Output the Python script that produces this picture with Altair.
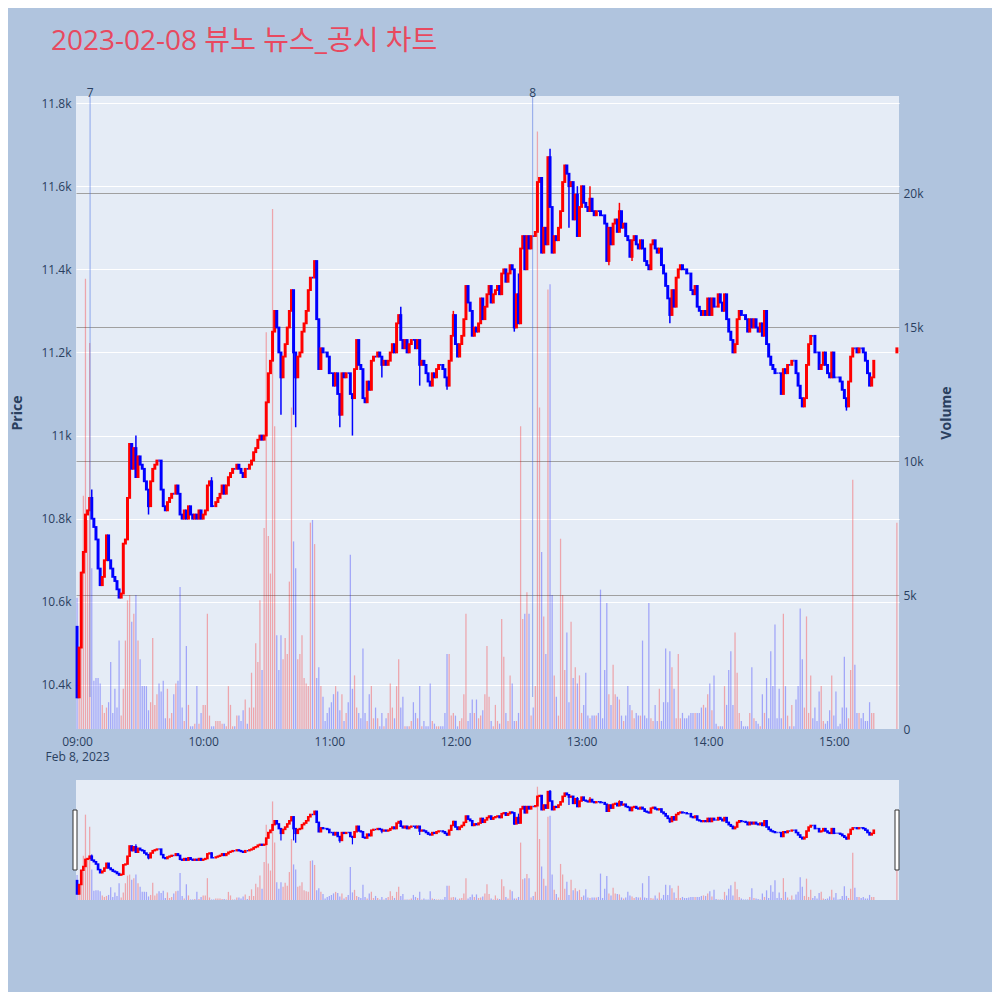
import altair as alt
import pandas as pd

title_text = "2023-02-08 뷰노 뉴스_공시 차트"

# ---- data (1-minute candles 09:00..15:19, plus 15:30 closing auction)
first_open = 10540
closes = [
    10370, 10490, 10670, 10720, 10810, 10820, 10850, 10800, 10780, 10750,
    10680, 10640, 10660, 10700, 10760, 10700, 10680, 10660, 10650, 10630,
    10610, 10620, 10740, 10750, 10850, 10980, 10920, 10970, 10900, 10950,
    10930, 10920, 10890, 10870, 10830, 10890, 10920, 10930, 10940, 10940,
    10870, 10830, 10820, 10840, 10850, 10860, 10860, 10880, 10860, 10810,
    10800, 10820, 10800, 10830, 10810, 10800, 10810, 10800, 10820, 10800,
    10810, 10820, 10880, 10890, 10830, 10830, 10840, 10850, 10860, 10880,
    10860, 10880, 10900, 10910, 10920, 10920, 10930, 10920, 10910, 10900,
    10920, 10920, 10930, 10940, 10960, 10970, 10990, 11000, 10990, 11000,
    11080, 11150, 11180, 11250, 11300, 11260, 11200, 11140, 11190, 11220,
    11260, 11300, 11350, 11200, 11140, 11190, 11200, 11250, 11270, 11300,
    11350, 11380, 11380, 11420, 11280, 11160, 11210, 11200, 11200, 11190,
    11150, 11150, 11120, 11150, 11100, 11050, 11150, 11140, 11150, 11150,
    11100, 11090, 11160, 11230, 11170, 11160, 11090, 11080, 11130, 11110,
    11180, 11190, 11190, 11200, 11190, 11170, 11180, 11170, 11180, 11200,
    11220, 11200, 11270, 11290, 11230, 11210, 11230, 11200, 11220, 11230,
    11230, 11210, 11230, 11170, 11180, 11170, 11150, 11130, 11120, 11150,
    11140, 11160, 11170, 11170, 11160, 11140, 11120, 11180, 11240, 11290,
    11220, 11190, 11220, 11240, 11280, 11360, 11320, 11300, 11240, 11260,
    11250, 11270, 11330, 11280, 11310, 11340, 11360, 11320, 11340, 11350,
    11360, 11340, 11390, 11400, 11370, 11390, 11410, 11400, 11260, 11340,
    11270, 11450, 11480, 11400, 11480, 11450, 11480, 11480, 11490, 11610,
    11620, 11440, 11500, 11460, 11670, 11550, 11440, 11480, 11470, 11500,
    11540, 11610, 11650, 11630, 11600, 11610, 11520, 11580, 11480, 11550,
    11600, 11560, 11550, 11540, 11570, 11540, 11530, 11540, 11540, 11530,
    11530, 11510, 11420, 11500, 11460, 11510, 11520, 11490, 11540, 11500,
    11510, 11480, 11470, 11430, 11470, 11480, 11460, 11450, 11470, 11450,
    11420, 11410, 11400, 11460, 11470, 11450, 11440, 11450, 11410, 11390,
    11360, 11330, 11290, 11350, 11310, 11380, 11400, 11410, 11400, 11400,
    11390, 11390, 11350, 11340, 11360, 11310, 11300, 11290, 11300, 11290,
    11330, 11290, 11330, 11310, 11310, 11340, 11320, 11300, 11340, 11280,
    11250, 11230, 11200, 11220, 11280, 11300, 11290, 11290, 11280, 11250,
    11280, 11260, 11280, 11260, 11250, 11270, 11240, 11300, 11220, 11190,
    11170, 11160, 11150, 11150, 11150, 11100, 11160, 11150, 11170, 11170,
    11180, 11180, 11150, 11120, 11090, 11070, 11090, 11170, 11220, 11240,
    11240, 11200, 11200, 11160, 11170, 11200, 11170, 11150, 11140, 11200,
    11140, 11140, 11140, 11130, 11110, 11090, 11070, 11130, 11190, 11210,
    11210, 11200, 11210, 11210, 11200, 11180, 11150, 11120, 11140, 11180,
]
auction_time = "15:30"
auction_open = 11200
auction_close = 11210

volumes_k = [
    4.9, 1.5, 5.9, 8.7, 16.8, 7.8, 14.4, 6.0, 1.8, 1.9,
    1.9, 1.7, 0.9, 0.6, 0.8, 1.0, 2.5, 0.6, 1.5, 0.8,
    3.3, 0.5, 1.5, 3.3, 4.8, 5.0, 4.0, 4.3, 5.0, 3.3,
    2.6, 1.6, 1.6, 1.6, 0.7, 1.0, 3.4, 0.9, 1.3, 1.7,
    1.4, 1.8, 0.4, 1.5, 0.4, 0.6, 1.3, 1.7, 1.8, 5.3,
    0.8, 0.3, 3.1, 0.9, 0.1, 0.1, 0.2, 1.6, 0.2, 0.6,
    0.9, 0.9, 4.3, 0.5, 0.1, 0.1, 0.3, 0.3, 0.3, 0.2,
    0.2, 0.1, 1.6, 0.9, 0.1, 0.1, 0.5, 0.5, 0.3, 0.7,
    1.1, 0.2, 0.8, 2.1, 0.8, 3.2, 2.5, 4.8, 2.2, 7.5,
    14.8, 7.2, 5.8, 19.4, 11.3, 3.5, 2.2, 3.5, 2.6, 3.4,
    2.8, 5.5, 12.0, 7.0, 6.0, 2.6, 2.8, 3.5, 1.9, 1.7,
    1.6, 7.7, 7.8, 6.9, 1.9, 2.3, 1.6, 1.2, 0.3, 0.6,
    0.8, 1.0, 1.3, 1.6, 1.4, 0.7, 1.3, 0.3, 0.6, 1.0,
    6.5, 1.5, 2.0, 0.8, 0.6, 0.4, 3.0, 0.6, 0.3, 1.3,
    1.6, 0.4, 0.8, 0.4, 0.1, 0.6, 0.1, 0.4, 0.6, 1.7,
    0.8, 0.4, 1.6, 2.6, 0.8, 1.2, 0.1, 0.1, 0.1, 0.3,
    1.0, 0.6, 0.4, 1.6, 0.1, 0.3, 0.1, 0.1, 1.7, 0.3,
    0.2, 0.1, 0.1, 0.1, 0.1, 0.6, 2.8, 2.8, 0.5, 0.6,
    0.5, 0.1, 0.3, 0.4, 1.3, 4.3, 0.3, 0.6, 1.1, 0.6,
    1.1, 0.4, 0.5, 0.7, 1.3, 3.1, 1.2, 0.3, 0.1, 0.9,
    0.3, 0.2, 4.1, 2.7, 0.6, 0.3, 2.0, 1.7, 0.3, 0.3,
    0.6, 11.3, 4.1, 4.3, 5.1, 4.3, 0.5, 0.8, 1.6, 22.3,
    12.0, 6.6, 4.2, 2.8, 16.4, 16.6, 5.0, 2.0, 1.2, 0.5,
    7.1, 5.0, 2.2, 3.6, 1.0, 4.0, 1.9, 2.3, 1.7, 2.0,
    0.6, 0.9, 2.1, 0.5, 0.4, 0.5, 0.5, 0.5, 0.6, 5.2,
    0.4, 2.2, 4.7, 1.3, 0.9, 2.4, 1.3, 1.2, 1.1, 0.5,
    0.3, 0.5, 1.6, 0.9, 0.7, 0.4, 0.6, 0.5, 0.5, 3.3,
    0.5, 0.4, 4.7, 0.4, 0.3, 0.9, 0.3, 1.5, 0.3, 1.0,
    3.0, 1.0, 2.9, 2.3, 1.5, 0.4, 2.8, 0.4, 0.6, 0.4,
    0.4, 0.5, 0.6, 0.6, 0.6, 0.6, 0.6, 0.8, 0.9, 0.8,
    1.3, 1.7, 0.7, 2.0, 0.2, 0.1, 0.1, 0.1, 1.6, 0.9,
    2.2, 2.9, 0.9, 3.6, 2.1, 0.6, 0.3, 0.1, 0.1, 0.1,
    0.6, 2.3, 0.4, 0.3, 0.2, 0.1, 1.3, 0.6, 1.9, 0.4,
    2.9, 1.6, 3.9, 0.4, 1.5, 0.4, 4.3, 1.6, 0.5, 0.1,
    0.9, 0.1, 1.1, 1.6, 4.5, 2.6, 0.8, 4.2, 0.6, 2.0,
    0.4, 0.8, 0.3, 1.4, 1.6, 0.3, 0.2, 0.3, 0.7, 2.0,
    0.5, 1.4, 0.1, 0.2, 0.8, 2.7, 0.8, 0.4, 2.2, 9.3,
    2.4, 0.6, 0.6, 0.4, 0.6, 0.3, 0.3, 1.0, 0.6, 0.6,
]
auction_volume_k = 7.7

# wick extremes beyond the candle bodies (minute index -> price)
high_ext = {7: 10870, 28: 11000, 64: 10900, 114: 11420, 154: 11310, 179: 11300,
            210: 11390, 225: 11690, 238: 11600, 244: 11600, 258: 11560}
low_ext = {34: 10810, 97: 11050, 103: 11050, 104: 11020, 125: 11020, 131: 11000,
           145: 11140, 163: 11120, 176: 11110, 208: 11250, 226: 11440, 234: 11500,
           253: 11410, 264: 11420, 282: 11270, 366: 11060}

news_times = ["09:06:12", "12:36:42"]
news_labels = ["7", "8"]

price_ticks = [10400, 10600, 10800, 11000, 11200, 11400, 11600, 11800]
volume_ticks = [0, 5000, 10000, 15000, 20000]
hour_labels = ["09:00", "10:00", "11:00", "12:00", "13:00", "14:00", "15:00"]
first_label_date = "Feb 8, 2023"

# ---- build tables
def minutes_from_open(s):
    parts = [int(p) for p in s.split(":")]
    sec = parts[2] if len(parts) > 2 else 0
    return (parts[0] - 9) * 60 + parts[1] + sec / 60.0

times = [f"{9 + i // 60:02d}:{i % 60:02d}" for i in range(len(closes))] + [auction_time]
all_close = closes + [auction_close]
all_open = [first_open] + closes[:-1] + [auction_open]
all_vol = [v * 1000 for v in volumes_k + [auction_volume_k]]

rows = []
for i, (tm, o, c, v) in enumerate(zip(times, all_open, all_close, all_vol)):
    t = minutes_from_open(tm)
    hi = max(o, c, high_ext.get(i, 0))
    lo = min(o, c, low_ext.get(i, 10 ** 9))
    rows.append(dict(time=tm, t=t, open=o, close=c, high=hi, low=lo, vol=v, zero=0,
                     dir="up" if c > o else "down",
                     x0=t - 0.3, x1=t + 0.3, b0=t - 0.28, b1=t + 0.28))
df = pd.DataFrame(rows)
news_df = pd.DataFrame({"t": [minutes_from_open(s) for s in news_times], "label": news_labels})
one = pd.DataFrame({"a": [0]})

# ---- layout constants (pixels inside the single layered view)
W = 823
MAIN_H = 633
SL_TOP, SL_BOT = 684, 804
H = SL_BOT

txt = "#2a3f5f"
font = "Open Sans"

xs = alt.Scale(domain=[-0.5, 391.0], nice=False, zero=False, padding=0)
pm = alt.Scale(domain=[10294, 11817], range=[MAIN_H, 0], nice=False, zero=False, padding=0)
vm = alt.Scale(domain=[0, 23620], range=[MAIN_H, 0], nice=False, zero=True, padding=0)
ps = alt.Scale(domain=[10294, 11817], range=[SL_BOT, SL_TOP], nice=False, zero=False, padding=0)
vs = alt.Scale(domain=[0, 23620], range=[SL_BOT, SL_TOP], nice=False, zero=True, padding=0)
col_scale = alt.Scale(domain=["up", "down"], range=["#FF0000", "#0000FF"])

label_expr = " : ".join(
    f"datum.value == {i * 60} ? " + (f"['{lab}', '{first_label_date}']" if i == 0 else f"'{lab}'")
    for i, lab in enumerate(hour_labels)
) + " : ''"

xaxis = alt.Axis(values=[i * 60 for i in range(len(hour_labels))], labelExpr=label_expr,
                 grid=False, ticks=False, domain=False, labelFont=font, labelFontSize=12,
                 labelColor=txt, labelPadding=7, labelLineHeight=15, labelBaseline="top",
                 offset=-(H - MAIN_H), zindex=1, labelOverlap=False, labelFlush=False,
                 title=None)

price_axis = alt.Axis(orient="left", values=price_ticks, format=".3~s", grid=True,
                      gridColor="white", gridWidth=1, ticks=False, domain=False,
                      labelFont=font, labelFontSize=12, labelColor=txt, labelPadding=5,
                      title="Price", titleFont=font, titleFontSize=14, titleColor=txt,
                      titleFontWeight="bold", titleAngle=270, titleX=-59, titleY=MAIN_H / 2,
                      titleBaseline="middle", titleAlign="center")
vol_axis = alt.Axis(orient="right", values=volume_ticks,
                    labelExpr="datum.value == 0 ? '0' : (datum.value / 1000) + 'k'", grid=True,
                    gridColor="#A0A0A0", gridWidth=1.2, ticks=False, domain=False,
                    labelFont=font, labelFontSize=12, labelColor=txt, labelPadding=4,
                    title="Volume", titleFont=font, titleFontSize=14, titleColor=txt,
                    titleFontWeight="bold", titleAngle=270, titleX=47, titleY=MAIN_H / 2,
                    titleBaseline="middle", titleAlign="center")

base = alt.Chart(df)
X = lambda f: alt.X(f"{f}:Q", scale=xs, axis=xaxis)
colr = alt.Color("dir:N", scale=col_scale, legend=None)
strk = alt.Stroke("dir:N", scale=col_scale, legend=None)

vol_main = base.mark_bar(opacity=0.3, orient="vertical").encode(
    x=X("x0"), x2="x1", y=alt.Y("vol:Q", scale=vm, axis=vol_axis), y2="zero:Q", color=colr)
wick_main = base.mark_rule(strokeWidth=1.5).encode(
    x=X("t"), y=alt.Y("low:Q", scale=pm, axis=price_axis), y2="high:Q", color=colr)
body_main = base.mark_bar(strokeWidth=1.8).encode(
    x=X("b0"), x2="b1", y=alt.Y("open:Q", scale=pm, axis=None), y2="close:Q",
    color=colr, stroke=strk)

news_rule = alt.Chart(news_df).mark_rule(color="#4169E1", opacity=0.45, strokeWidth=1.2).encode(
    x=X("t"), y=alt.value(0), y2=alt.value(601))
news_text = alt.Chart(news_df).mark_text(font=font, fontSize=12, color=txt, baseline="middle").encode(
    x=X("t"), y=alt.value(-3), text="label:N")

gap = alt.Chart(one).mark_rect(color="#B0C4DE").encode(
    x=alt.value(-2), x2=alt.value(W + 2), y=alt.value(MAIN_H), y2=alt.value(SL_TOP))

vol_sl = base.mark_bar(opacity=0.3, orient="vertical").encode(
    x=X("x0"), x2="x1", y=alt.Y("vol:Q", scale=vs, axis=None), y2="zero:Q", color=colr)
wick_sl = base.mark_rule(strokeWidth=1.2).encode(
    x=X("t"), y=alt.Y("low:Q", scale=ps, axis=None), y2="high:Q", color=colr)
body_sl = base.mark_bar(strokeWidth=1.5).encode(
    x=X("b0"), x2="b1", y=alt.Y("open:Q", scale=ps, axis=None), y2="close:Q",
    color=colr, stroke=strk)

handle_l = alt.Chart(one).mark_rect(fill="white", stroke="#333333", strokeWidth=1).encode(
    x=alt.value(-3), x2=alt.value(1), y=alt.value(714), y2=alt.value(774))
handle_r = alt.Chart(one).mark_rect(fill="white", stroke="#333333", strokeWidth=1).encode(
    x=alt.value(W - 4), x2=alt.value(W), y=alt.value(714), y2=alt.value(774))

chart = alt.layer(
    vol_main, wick_main, body_main, news_rule, news_text, gap,
    vol_sl, wick_sl, body_sl, handle_l, handle_r,
).resolve_scale(y="independent").resolve_axis(y="independent").properties(
    width=W, height=H,
    title=alt.TitleParams(text=title_text, anchor="start", frame="group", dx=-25,
                          fontSize=28, font="Open Sans, Noto Sans CJK KR",
                          fontWeight="normal", color="#E8495F", offset=31),
    background="#B0C4DE",
    padding={"left": 68, "top": 88, "right": 93, "bottom": 92},
    autosize=alt.AutoSizeParams(type="none"),
).configure_view(fill="#E5ECF6", strokeWidth=0)

chart.save("out.html", embed_options={"renderer": "svg", "actions": False})
